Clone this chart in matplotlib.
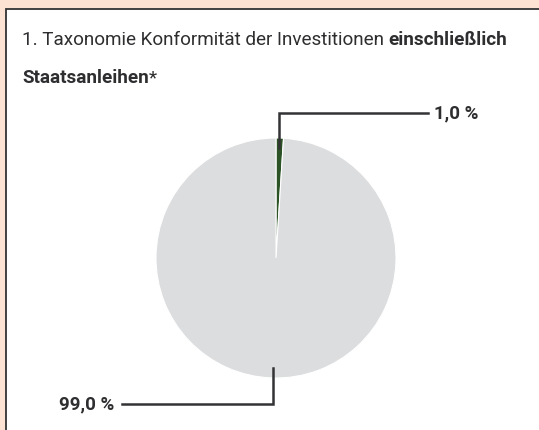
import matplotlib
matplotlib.use("Agg")
from matplotlib import pyplot as plt
from matplotlib import patches
import numpy as np

# data
labels = ["Taxonomie-konform", "Nicht taxonomie-konform"]
values = [1.0, 99.0]
value_labels = ["1,0 %", "99,0 %"]
colors = ["#2b5326", "#dcdddf"]

title_parts_1 = [("1. Taxonomie Konformität der Investitionen ", "normal"), ("einschließlich", "bold")]
title_parts_2 = [("Staatsanleihen", "bold"), ("*", "normal")]

W, H = 539, 430
fig = plt.figure(figsize=(W / 100, H / 100), dpi=100)
fig.patch.set_facecolor("#fbe2d2")
ax = fig.add_axes([0, 0, 1, 1])
ax.set_xlim(0, W)
ax.set_ylim(0, H)
ax.axis("off")

# white panel
ax.add_patch(patches.Rectangle((5.5, -10), 600, H - 9 + 10, facecolor="white",
                               edgecolor="#333333", lw=1.3, zorder=0))

plt.rcParams["font.family"] = ["Roboto", "DejaVu Sans"]
txt_color = "#2e2e30"
renderer = fig.canvas.get_renderer()


def rich_line(parts, x, y, size):
    for s, w in parts:
        t = ax.text(x, y, s, fontsize=size, fontweight=w, color=txt_color,
                    ha="left", va="baseline")
        bb = t.get_window_extent(renderer=renderer)
        x += bb.width


rich_line(title_parts_1, 22, H - 45, 13.6)
rich_line(title_parts_2, 22, H - 83, 13.6)

# pie
cx, cy, r = 276, H - 258, 120
wedges, _ = ax.pie(values, colors=colors, startangle=90, counterclock=False,
                   center=(cx, cy), radius=r, frame=True,
                   wedgeprops=dict(edgecolor="white", linewidth=0.8))
ax.set_xlim(0, W)
ax.set_ylim(0, H)
ax.set_aspect("equal")
ax.axis("off")

# leader lines
line_col = "#333335"
ends = [(H - 113, 428, "left"), (H - 404, 122, "right")]
for w, lab, (ly, lx, ha) in zip(wedges, value_labels, ends):
    mid = np.deg2rad((w.theta1 + w.theta2) / 2)
    ax0 = cx + 110 * np.cos(mid)
    ay0 = cy + 110 * np.sin(mid)
    ax.plot([ax0, ax0, lx], [ay0, ly, ly], color=line_col, lw=1.8,
            solid_joinstyle="miter", zorder=5)
    off = 6 if ha == "left" else -8
    ax.text(lx + off, ly, lab, fontsize=13.5, fontweight="bold", color=txt_color,
            ha=ha, va="center")

fig.savefig("out.png", dpi=100, facecolor=fig.get_facecolor())
